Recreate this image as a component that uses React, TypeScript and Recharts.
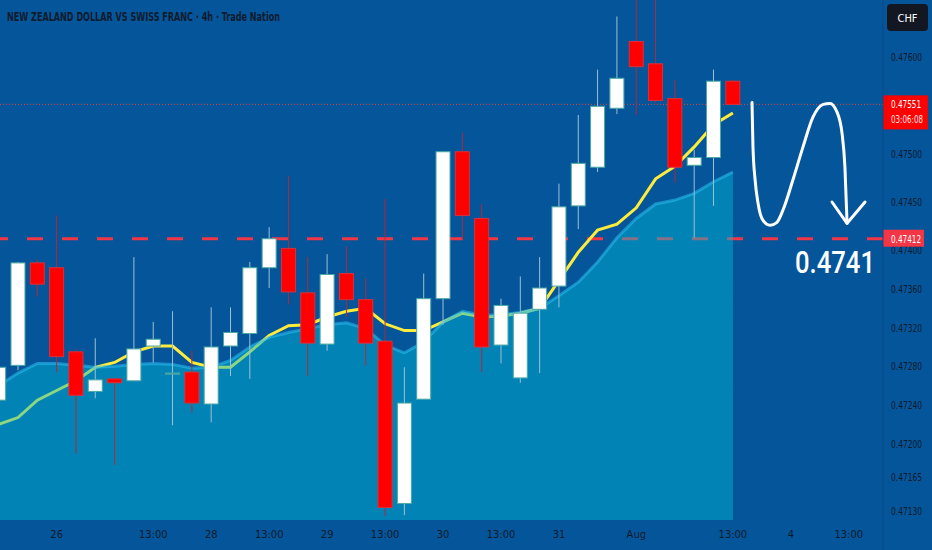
import React from 'react';
import { ComposedChart, Area, Line, Bar, XAxis, YAxis, ReferenceLine } from 'recharts';

// 4h bars, NZDCHF
const barIndex = [0, 1, 2, 3, 4, 5, 6, 7, 8, 9, 10, 11, 12, 13, 14, 15, 16, 17, 18, 19, 20, 21, 22, 23, 24, 25, 26, 27, 28, 29, 30, 31, 32, 33, 34, 35, 36, 37, 38];
const opens = [0.47245, 0.47281, 0.47387, 0.47382, 0.47295, 0.47254, 0.47267, 0.47265, 0.47301, 0.47273, 0.47274, 0.47241, 0.47301, 0.47314, 0.47382, 0.47402, 0.47356, 0.47303, 0.47376, 0.47349, 0.47306, 0.47138, 0.47246, 0.47350, 0.47502, 0.47433, 0.47302, 0.47268, 0.47339, 0.47363, 0.47446, 0.47486, 0.47547, 0.47616, 0.47593, 0.47557, 0.47488, 0.47496, 0.47575];
const highs = [0.47286, 0.47388, 0.47390, 0.47436, 0.47298, 0.47309, 0.47267, 0.47393, 0.47326, 0.47337, 0.47296, 0.47341, 0.47341, 0.47388, 0.47424, 0.47477, 0.47393, 0.47396, 0.47404, 0.47371, 0.47453, 0.47279, 0.47376, 0.47502, 0.47522, 0.47448, 0.47350, 0.47373, 0.47393, 0.47469, 0.47540, 0.47587, 0.47642, 0.47659, 0.47659, 0.47576, 0.47504, 0.47587, 0.47576];
const lows = [0.47235, 0.47276, 0.47352, 0.47274, 0.47190, 0.47247, 0.47178, 0.47265, 0.47284, 0.47219, 0.47232, 0.47222, 0.47270, 0.47267, 0.47361, 0.47344, 0.47270, 0.47296, 0.47331, 0.47281, 0.47125, 0.47126, 0.47246, 0.47323, 0.47411, 0.47274, 0.47283, 0.47263, 0.47273, 0.47341, 0.47422, 0.47481, 0.47541, 0.47540, 0.47553, 0.47470, 0.47413, 0.47446, 0.47551];
const closes = [0.47279, 0.47387, 0.47365, 0.47290, 0.47250, 0.47266, 0.47263, 0.47298, 0.47308, 0.47273, 0.47242, 0.47300, 0.47315, 0.47382, 0.47412, 0.47357, 0.47304, 0.47375, 0.47349, 0.47304, 0.47134, 0.47242, 0.47350, 0.47502, 0.47436, 0.47300, 0.47343, 0.47335, 0.47361, 0.47445, 0.47490, 0.47549, 0.47578, 0.47590, 0.47555, 0.47486, 0.47496, 0.47575, 0.47551];
// fast average (yellow) and slow average (filled)
const fastMa = [0.47220, 0.47227, 0.47245, 0.47255, 0.47265, 0.47279, 0.47284, 0.47295, 0.47301, 0.47301, 0.47284, 0.47279, 0.47279, 0.47295, 0.47312, 0.47322, 0.47323, 0.47331, 0.47337, 0.47340, 0.47324, 0.47317, 0.47317, 0.47326, 0.47335, 0.47331, 0.47332, 0.47335, 0.47340, 0.47369, 0.47398, 0.47421, 0.47427, 0.47444, 0.47474, 0.47487, 0.47507, 0.47530, 0.47542];
const slowMa = [0.47260, 0.47273, 0.47283, 0.47283, 0.47281, 0.47279, 0.47280, 0.47282, 0.47283, 0.47282, 0.47278, 0.47279, 0.47286, 0.47300, 0.47310, 0.47315, 0.47319, 0.47323, 0.47325, 0.47319, 0.47302, 0.47294, 0.47305, 0.47326, 0.47337, 0.47333, 0.47333, 0.47336, 0.47340, 0.47353, 0.47367, 0.47388, 0.47413, 0.47433, 0.47448, 0.47452, 0.47459, 0.47471, 0.47481];

const xTickPos = [3, 8, 11, 14, 17, 20, 23, 26, 29, 33, 38, 41, 44];
const xTickLabels = ['26', '13:00', '28', '13:00', '29', '13:00', '30', '13:00', '31', 'Aug', '13:00', '4', '13:00'];
const yTicks = [0.4713, 0.47165, 0.472, 0.4724, 0.4728, 0.4732, 0.4736, 0.474, 0.4745, 0.475, 0.476];

const lastPrice = 0.47551;
const countdown = '03:06:08';
const targetPrice = 0.47412;

// hand-drawn projection arrow, in bar / price units
const arrowBar = [38.99, 39.04, 39.15, 39.3, 39.56, 39.92, 40.28, 40.6, 41.11, 41.63, 42.15, 42.67, 43.03, 43.39, 43.65, 43.8, 43.91];
const arrowPrice = [0.47553, 0.47507, 0.47473, 0.47449, 0.47431, 0.47426, 0.47429, 0.47442, 0.47473, 0.47507, 0.47538, 0.47551, 0.47552, 0.47543, 0.47521, 0.47486, 0.47428];
const headBar = [43.13, 43.91, 44.84];
const headPrice = [0.4745, 0.47428, 0.4745];

const data = barIndex.map((i, k) => ({
  i,
  open: opens[k],
  high: highs[k],
  low: lows[k],
  close: closes[k],
  fast: fastMa[k],
  slow: slowMa[k],
}));
const arrowData = arrowBar.map((i, k) => ({ i, arrow: arrowPrice[k] }));
const headData = headBar.map((i, k) => ({ i, head: headPrice[k] }));

const FONT = "'Liberation Sans Narrow', 'DejaVu Sans Condensed', Roboto, sans-serif";
const BG = '#04559a';
const AXIS_TEXT = '#0d1a2b';
const BODY_W = 15;

const Candle = (props: any) => {
  const { x, y, width, height, payload } = props;
  if (!payload) return null;
  const { open, close, high, low } = payload;
  const top = Math.min(y, y + height);
  const h = Math.abs(height);
  const k = h / (high - low);
  const cx = x + (width || 0) / 2;
  const up = close >= open;
  const bodyTop = top + (high - Math.max(open, close)) * k;
  const bodyH = Math.max(1, Math.abs(open - close) * k);
  return (
    <g>
      <line x1={cx} x2={cx} y1={top} y2={top + h} stroke={up ? '#9cc0d4' : '#b3283a'} strokeWidth={1} />
      <rect
        x={cx - BODY_W / 2 + 0.5}
        y={bodyTop}
        width={BODY_W - 1}
        height={bodyH}
        fill={up ? '#ffffff' : '#ff0000'}
        stroke={up ? '#4aa8a4' : '#d8303c'}
        strokeWidth={1}
      />
    </g>
  );
};

const PriceTag = (props: any) => {
  const { viewBox, lines, fill, w } = props;
  if (!viewBox) return null;
  const x0 = viewBox.x + viewBox.width;
  const y0 = viewBox.y;
  const h = lines.length > 1 ? 34 : 17;
  return (
    <g>
      <rect x={x0} y={y0 - 9} width={w} height={h} fill={fill} />
      {lines.map((t: string, n: number) => (
        <text
          key={n}
          x={x0 + 8}
          y={y0 + 4 + n * 15}
          fontSize={11}
          fontFamily={FONT}
          fill={n ? '#ffe3e3' : '#ffffff'}
          textLength={n ? 32 : 30}
          lengthAdjust="spacingAndGlyphs"
        >
          {t}
        </text>
      ))}
    </g>
  );
};

const YTick = (props: any) => {
  const { x, y, payload } = props;
  return (
    <text x={x} y={y + 4} fontSize={11} fontFamily={FONT} fill={AXIS_TEXT} textAnchor="start" textLength={31} lengthAdjust="spacingAndGlyphs">
      {payload.value.toFixed(5)}
    </text>
  );
};

const XTick = (props: any) => {
  const { x, y, payload } = props;
  const label = xTickLabels[xTickPos.indexOf(payload.value)];
  return (
    <text x={x} y={y + 10} fontSize={11} fontFamily={FONT} fill={AXIS_TEXT} textAnchor="middle">
      {label}
    </text>
  );
};

export default function App() {
  return (
    <div style={{ position: 'absolute', left: 0, top: 0, width: 932, height: 550, background: BG, overflow: 'hidden' }}>
      <ComposedChart width={932} height={550} data={data} margin={{ top: 0, right: 0, left: 0, bottom: 0 }}>
        <XAxis
          dataKey="i"
          type="number"
          domain={[0.067, 45.77]}
          allowDataOverflow
          ticks={xTickPos}
          interval={0}
          tick={<XTick />}
          tickLine={false}
          axisLine={false}
          height={30}
        />
        <YAxis
          orientation="right"
          type="number"
          domain={[0.47121, 0.47659]}
          allowDataOverflow
          ticks={yTicks}
          interval={0}
          tick={<YTick />}
          tickLine={false}
          axisLine={false}
          tickSize={0}
          tickMargin={8}
          width={49}
        />
        <ReferenceLine y={targetPrice} stroke="#f23645" strokeWidth={3} strokeDasharray="16 19" zIndex={10} />
        <Line dataKey="fast" type="linear" stroke="#ffeb3b" strokeWidth={3} dot={false} activeDot={false} isAnimationActive={false} zIndex={20} />
        <Area
          dataKey="slow"
          type="linear"
          stroke="#2cc0f0"
          strokeOpacity={0.55}
          strokeWidth={3}
          fill="#00bcd8"
          fillOpacity={0.45}
          isAnimationActive={false}
          activeDot={false}
          zIndex={30}
        />
        <ReferenceLine y={lastPrice} stroke="#e0453c" strokeWidth={1} strokeDasharray="1 2" zIndex={35} />
        <Bar dataKey={(d: any) => [d.low, d.high]} barSize={BODY_W} shape={<Candle />} isAnimationActive={false} zIndex={40} />
        <Line data={arrowData} dataKey="arrow" type="monotone" stroke="#ffffff" strokeWidth={3} strokeLinecap="round" dot={false} activeDot={false} isAnimationActive={false} zIndex={50} />
        <Line data={headData} dataKey="head" type="linear" stroke="#ffffff" strokeWidth={3} strokeLinecap="round" strokeLinejoin="round" dot={false} activeDot={false} isAnimationActive={false} zIndex={50} />
        <ReferenceLine
          y={lastPrice}
          stroke="none"
          label={<PriceTag lines={[lastPrice.toFixed(5), countdown]} fill="#ff0000" w={45} />}
          zIndex={2000}
        />
        <ReferenceLine
          y={targetPrice}
          stroke="none"
          label={<PriceTag lines={[targetPrice.toFixed(5)]} fill="#f23645" w={41} />}
          zIndex={2000}
        />
      </ComposedChart>
      <svg width={932} height={550} style={{ position: 'absolute', left: 0, top: 0, pointerEvents: 'none' }}>
        <line x1={883} x2={883} y1={0} y2={550} stroke="#0a4a86" strokeWidth={1} />
        <text x={7} y={21} fontSize={12} fontWeight={700} fontFamily={FONT} fill="#0f1c2e" textLength={273} lengthAdjust="spacingAndGlyphs">
          NEW ZEALAND DOLLAR VS SWISS FRANC · 4h · Trade Nation
        </text>
        <rect x={887} y={4} width={41} height={27} rx={4} fill="#131722" />
        <text x={907.5} y={21.5} fontSize={11} fontFamily={FONT} fill="#ffffff" textAnchor="middle">CHF</text>
        <text x={795} y={273} fontSize={32} fontWeight={500} fontFamily="Roboto, sans-serif" fill="#ffffff" textLength={80} lengthAdjust="spacingAndGlyphs">
          0.4741
        </text>
      </svg>
    </div>
  );
}
